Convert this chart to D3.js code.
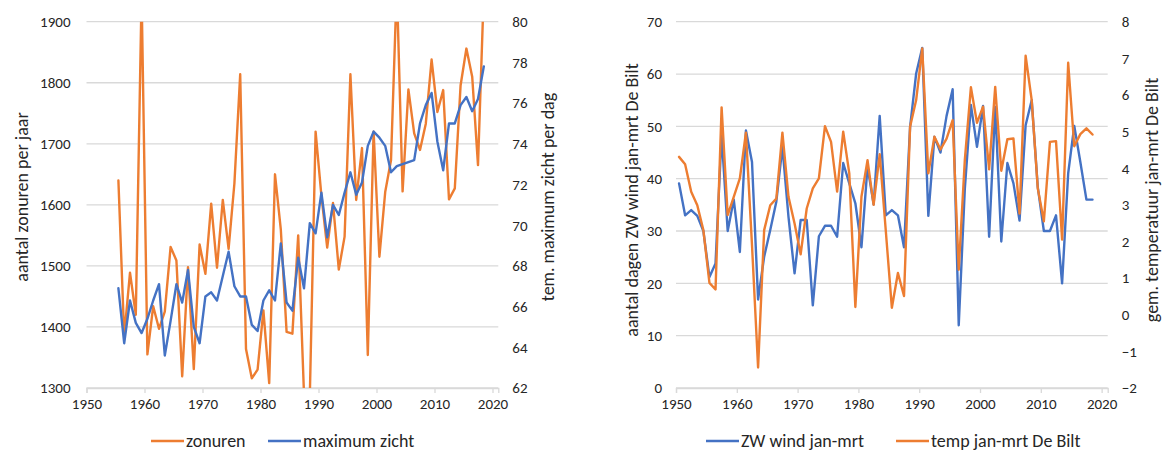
<!DOCTYPE html>
<html>
<head>
<meta charset="utf-8">
<script src="https://cdn.jsdelivr.net/npm/d3@7"></script>
<style>
  html, body { margin: 0; padding: 0; background: #fff; }
  svg { display: block; }
  text { font-family: "Carlito", "Liberation Sans Narrow", "Lato", sans-serif; fill: #262626; }
</style>
</head>
<body>
<svg id="chart" width="1165" height="452"></svg>
<script>
// ---------- DATA ----------
const yearsA = d3.range(1955, 2019); // 1955..2018
const zonuren = [1640, 1385, 1489, 1420, 1945, 1355, 1434, 1397, 1425, 1531,
                 1509, 1319, 1498, 1331, 1535, 1487, 1602, 1497, 1608, 1528,
                 1635, 1814, 1364, 1316, 1330, 1427, 1308, 1650, 1560, 1392,
                 1389, 1550, 1290, 1285, 1720, 1615, 1530, 1603, 1494, 1548,
                 1814, 1608, 1693, 1354, 1720, 1515, 1621, 1673, 1960, 1622,
                 1789, 1717, 1690, 1733, 1838, 1752, 1788, 1609, 1627, 1796,
                 1856, 1810, 1665, 1950];
const maxZicht = [66.9, 64.2, 66.3, 65.2, 64.7, 65.4, 66.3, 67.1, 63.6, 65.3,
                  67.1, 66.2, 67.8, 65.0, 64.2, 66.5, 66.7, 66.3, 67.5, 68.7,
                  67.0, 66.5, 66.5, 65.1, 64.8, 66.3, 66.8, 66.3, 69.1, 66.2,
                  65.8, 68.4, 66.9, 70.1, 69.6, 71.6, 69.4, 71.0, 70.5, 71.6,
                  72.6, 71.5, 72.1, 73.9, 74.6, 74.3, 73.9, 72.6, 72.9, 73.0,
                  73.1, 73.2, 75.0, 75.9, 76.5, 74.1, 72.7, 75.0, 75.0, 75.9,
                  76.3, 75.6, 76.2, 77.8];

const yearsB = d3.range(1950, 2019); // 1950..2018
const zwWind = [39.1, 33.0, 34.0, 32.9, 30.0, 21.2, 23.8, 48.3, 30.0, 36.0,
                26.0, 49.2, 43.2, 16.9, 25.1, 30.2, 35.6, 46.1, 32.7, 21.9,
                32.1, 32.1, 15.8, 29.0, 31.0, 31.0, 28.9, 43.0, 39.1, 35.3,
                26.9, 42.3, 35.1, 52.0, 33.0, 34.0, 33.0, 26.9, 49.9, 60.1,
                65.0, 32.9, 48.0, 45.0, 52.0, 57.1, 12.0, 38.0, 54.1, 46.1,
                53.9, 28.9, 53.7, 28.0, 43.0, 39.1, 32.0, 50.2, 55.0, 38.4,
                30.0, 30.0, 33.0, 20.0, 41.0, 50.1, 43.2, 36.0, 36.0];
const tempBilt = [4.31, 4.11, 3.36, 2.99, 2.31, 0.87, 0.69, 5.66, 2.72, 3.22,
                  3.72, 4.97, 1.9, -1.44, 2.31, 2.99, 3.17, 4.97, 3.22, 2.49,
                  1.65, 2.90, 3.45, 3.72, 5.15, 4.72, 3.36, 5.00, 3.86, 0.21,
                  3.22, 4.22, 3.00, 4.38, 2.3, 0.19, 1.14, 0.51, 5.13, 5.86,
                  7.27, 3.86, 4.86, 4.51, 4.81, 5.31, 1.23, 4.22, 6.21, 5.24,
                  5.68, 3.97, 6.22, 3.93, 4.79, 4.81, 2.76, 7.07, 5.86, 3.45,
                  2.55, 4.72, 4.74, 2.05, 6.88, 4.60, 4.93, 5.09, 4.92];

const xTicks = [1950, 1960, 1970, 1980, 1990, 2000, 2010, 2020];
const ticksA1 = [1300, 1400, 1500, 1600, 1700, 1800, 1900];
const ticksA2 = [62, 64, 66, 68, 70, 72, 74, 76, 78, 80];
const ticksB1 = [0, 10, 20, 30, 40, 50, 60, 70];
const ticksB2 = [-2, -1, 0, 1, 2, 3, 4, 5, 6, 7, 8];

const ORANGE = "#ED7D31", BLUE = "#4472C4", GRID = "#D9D9D9";

const svg = d3.select("#chart");

function panel(cfg) {
  const g = svg.append("g");
  const x = d3.scaleLinear().domain([1950, 2021]).range([cfg.x0, cfg.x1]);
  const yL = d3.scaleLinear().domain(cfg.yLdom).range([cfg.yb, cfg.yt]);
  const yR = d3.scaleLinear().domain(cfg.yRdom).range([cfg.yb, cfg.yt]);

  // gridlines
  g.append("g").selectAll("line").data(cfg.ticksL).join("line")
    .attr("x1", cfg.x0).attr("x2", cfg.x1)
    .attr("y1", d => yL(d)).attr("y2", d => yL(d))
    .attr("stroke", GRID).attr("stroke-width", 1.3);

  // x axis
  const xa = g.append("g").attr("transform", `translate(0,${cfg.yb})`)
    .call(d3.axisBottom(x).tickValues(xTicks).tickFormat(d3.format("d")).tickSize(5).tickPadding(5));
  xa.select(".domain").attr("stroke", GRID).attr("stroke-width", 1.3);
  xa.selectAll(".tick line").attr("stroke", GRID).attr("stroke-width", 1.3);
  xa.selectAll("text").attr("font-size", 15).style("fill", "#262626");

  // left axis
  const la = g.append("g").attr("transform", `translate(${cfg.x0},0)`)
    .call(d3.axisLeft(yL).tickValues(cfg.ticksL).tickFormat(d3.format("d")).tickSize(0).tickPadding(cfg.padL));
  la.select(".domain").remove();
  la.selectAll("text").attr("font-size", 15).style("fill", "#262626");

  // right axis
  const ra = g.append("g").attr("transform", `translate(${cfg.x1},0)`)
    .call(d3.axisRight(yR).tickValues(cfg.ticksR).tickFormat(d3.format("d")).tickSize(0).tickPadding(cfg.padR));
  ra.select(".domain").remove();
  ra.selectAll("text").attr("font-size", 15).style("fill", "#262626");

  // clip
  const cid = "clip" + cfg.id;
  svg.append("clipPath").attr("id", cid).append("rect")
    .attr("x", cfg.x0 - 2).attr("y", cfg.yt).attr("width", cfg.x1 - cfg.x0 + 4).attr("height", cfg.yb - cfg.yt);
  const plot = g.append("g").attr("clip-path", `url(#${cid})`);

  cfg.series.forEach(s => {
    const sc = s.axis === "L" ? yL : yR;
    const line = d3.line().x((d, i) => x(s.years[i] + 0.5)).y(d => sc(d));
    plot.append("path").datum(s.values)
      .attr("d", line).attr("fill", "none")
      .attr("stroke", s.color).attr("stroke-width", 2.4)
      .attr("stroke-linejoin", "round").attr("stroke-linecap", "round");
  });

  // axis titles
  g.append("text").attr("transform", `translate(${cfg.tL},${cfg.tY}) rotate(-90)`)
    .attr("text-anchor", "middle").attr("font-size", 18).text(cfg.titleL);
  g.append("text").attr("transform", `translate(${cfg.tR},${cfg.tY}) rotate(-90)`)
    .attr("text-anchor", "middle").attr("font-size", 18).text(cfg.titleR);

  // legend
  cfg.legend.forEach(l => {
    g.append("line").attr("x1", l.x).attr("x2", l.x + 33).attr("y1", 441).attr("y2", 441)
      .attr("stroke", l.color).attr("stroke-width", 2.4);
    g.append("text").attr("x", l.x + 35).attr("y", 447).attr("font-size", 18).text(l.label);
  });
}

panel({
  id: "A", x0: 86.5, x1: 498.3, yt: 21.7, yb: 388,
  yLdom: [1300, 1900], yRdom: [62, 80],
  ticksL: ticksA1, ticksR: ticksA2, padL: 16, padR: 14,
  titleL: "aantal zonuren per jaar", titleR: "tem. maximum zicht per dag",
  tL: 28, tR: 554, tY: 197,
  series: [
    { years: yearsA, values: zonuren, axis: "L", color: ORANGE },
    { years: yearsA, values: maxZicht, axis: "R", color: BLUE }
  ],
  legend: [
    { x: 151, color: ORANGE, label: "zonuren" },
    { x: 268, color: BLUE, label: "maximum zicht" }
  ]
});

panel({
  id: "B", x0: 676, x1: 1107.7, yt: 21.7, yb: 388,
  yLdom: [0, 70], yRdom: [-2, 8],
  ticksL: ticksB1, ticksR: ticksB2, padL: 14, padR: 14,
  titleL: "aantal dagen ZW wind jan-mrt De Bilt", titleR: "gem. temperatuur jan-mrt De Bilt",
  tL: 638, tR: 1158, tY: 200,
  series: [
    { years: yearsB, values: zwWind, axis: "L", color: BLUE },
    { years: yearsB, values: tempBilt, axis: "R", color: ORANGE }
  ],
  legend: [
    { x: 706, color: BLUE, label: "ZW wind jan-mrt" },
    { x: 896, color: ORANGE, label: "temp jan-mrt De Bilt" }
  ]
});
</script>
</body>
</html>
